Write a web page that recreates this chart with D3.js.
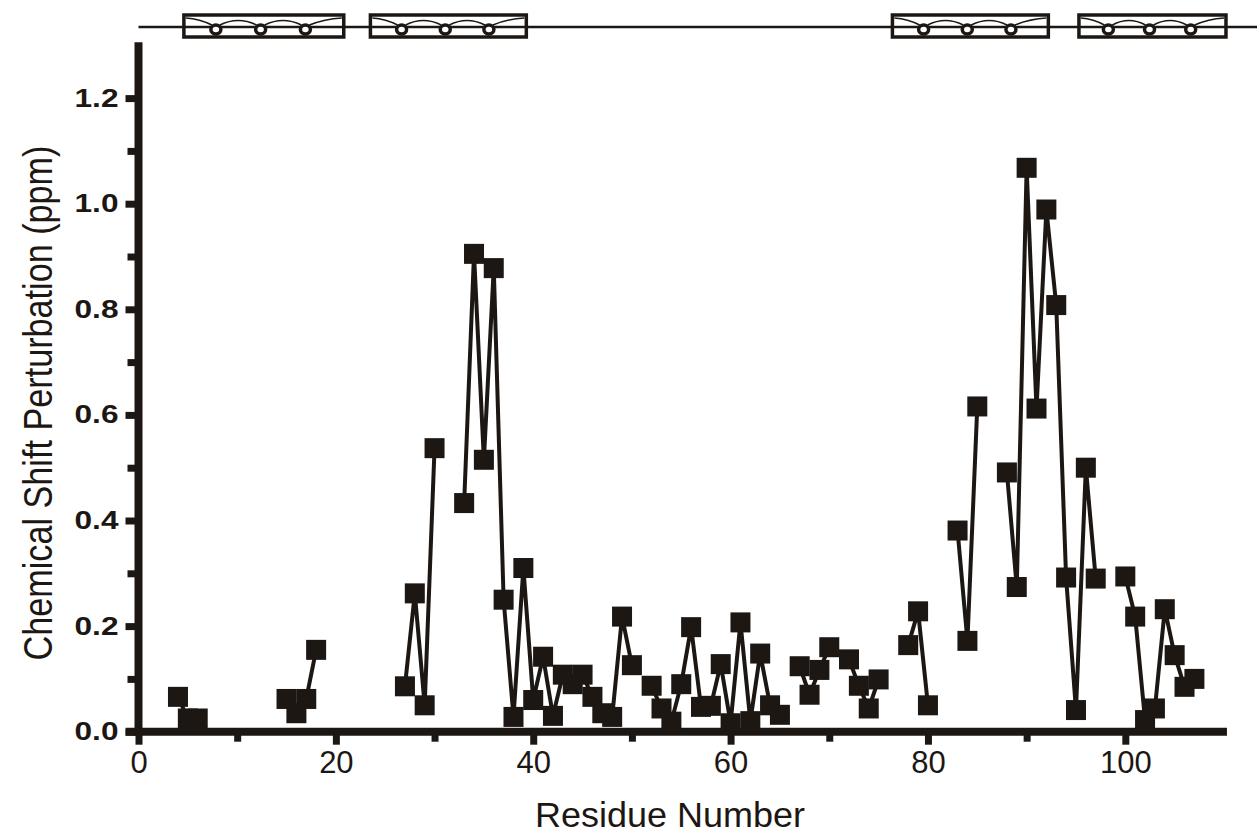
<!DOCTYPE html>
<html>
<head>
<meta charset="utf-8">
<script src="https://cdn.jsdelivr.net/npm/d3@7"></script>
<style>
  body { margin: 0; background: #fff; }
  text { font-family: "Liberation Sans", Arial, sans-serif; fill: #1d1714; }
</style>
</head>
<body>
<div class="chart"></div>
<script>
// residue numbers and chemical shift perturbation (ppm)
var residues = [4, 5, 6, 15, 16, 17, 18, 27, 28, 29, 30,
  33, 34, 35, 36, 37, 38, 39, 40, 41, 42, 43, 44, 45, 46, 47, 48, 49, 50,
  52, 53, 54, 55, 56, 57, 58, 59, 60, 61, 62, 63, 64, 65,
  67, 68, 69, 70, 72, 73, 74, 75, 78, 79, 80, 83, 84, 85,
  88, 89, 90, 91, 92, 93, 94, 95, 96, 97,
  100, 101, 102, 103, 104, 105, 106, 107];
var shifts = [0.066, 0.025, 0.025, 0.062, 0.035, 0.062, 0.155, 0.086, 0.262, 0.05, 0.537,
  0.433, 0.905, 0.515, 0.878, 0.25, 0.028, 0.31, 0.06, 0.142, 0.03, 0.108, 0.09, 0.108, 0.066, 0.035, 0.028, 0.218, 0.126,
  0.087, 0.044, 0.019, 0.09, 0.198, 0.047, 0.049, 0.128, 0.016, 0.207, 0.02, 0.148, 0.05, 0.032,
  0.124, 0.07, 0.117, 0.16, 0.137, 0.087, 0.044, 0.099, 0.164, 0.228, 0.05, 0.381, 0.172, 0.616,
  0.491, 0.274, 1.068, 0.612, 0.989, 0.808, 0.292, 0.041, 0.5, 0.29,
  0.294, 0.218, 0.022, 0.044, 0.232, 0.145, 0.085, 0.1];

// helix boxes along the sequence (residue start / end)
var helixStart = [4.6, 23.5, 76.4, 95.3];
var helixEnd = [20.8, 39.3, 92.2, 110.2];

var xMajorTicks = [0, 20, 40, 60, 80, 100];
var xMinorTicks = [10, 30, 50, 70, 90];
var yMajorTicks = [0, 0.2, 0.4, 0.6, 0.8, 1.0, 1.2];
var yMinorTicks = [0.1, 0.3, 0.5, 0.7, 0.9, 1.1];

var ink = "#1d1714";
var svgWidth = 1257;
var svgHeight = 833;

var svg = d3.select(".chart")
  .append("svg")
  .attr("width", svgWidth)
  .attr("height", svgHeight);

var xScale = d3.scaleLinear().domain([0, 110]).range([138.5, 1224]);
var yScale = d3.scaleLinear().domain([0, 1.3]).range([731.7, 45.3]);

// axes
var xAxis = d3.axisBottom(xScale).tickValues(xMajorTicks).tickSize(13).tickSizeOuter(0).tickPadding(6);
var xMinor = d3.axisBottom(xScale).tickValues(xMinorTicks).tickSize(10).tickSizeOuter(0).tickFormat("");
var yAxis = d3.axisLeft(yScale).tickValues(yMajorTicks).tickSize(13).tickSizeOuter(0).tickPadding(7).tickFormat(d3.format(".1f"));
var yMinor = d3.axisLeft(yScale).tickValues(yMinorTicks).tickSize(11).tickSizeOuter(0).tickFormat("");

function styleAxis(g) {
  g.select(".domain").remove();
  g.selectAll(".tick line").attr("stroke", ink).attr("stroke-width", 7);
}

var gx = svg.append("g").attr("transform", "translate(0," + yScale(0) + ")").call(xAxis).call(styleAxis);
svg.append("g").attr("transform", "translate(0," + yScale(0) + ")").call(xMinor).call(styleAxis);
gx.selectAll("text")
  .style("font-size", "31px")
  .attr("fill", ink);

var gy = svg.append("g").attr("transform", "translate(" + xScale(0) + ",0)").call(yAxis).call(styleAxis);
svg.append("g").attr("transform", "translate(" + xScale(0) + ",0)").call(yMinor).call(styleAxis);
gy.selectAll("text")
  .style("font-size", "25px")
  .style("font-weight", "bold")
  .attr("fill", ink)
  .attr("textLength", 44)
  .attr("lengthAdjust", "spacingAndGlyphs");

// thick axis lines
svg.append("line")
  .attr("x1", xScale(-1.3)).attr("x2", xScale(110.3))
  .attr("y1", yScale(0)).attr("y2", yScale(0))
  .attr("stroke", ink).attr("stroke-width", 8);
svg.append("line")
  .attr("x1", xScale(0)).attr("x2", xScale(0))
  .attr("y1", yScale(0) + 4).attr("y2", yScale(1.3) - 3)
  .attr("stroke", ink).attr("stroke-width", 8);

// axis titles
svg.append("text")
  .attr("x", 670).attr("y", 827)
  .attr("text-anchor", "middle")
  .style("font-size", "35px")
  .attr("textLength", 270)
  .attr("lengthAdjust", "spacingAndGlyphs")
  .text("Residue Number");

svg.append("text")
  .attr("transform", "translate(52,403) rotate(-90)")
  .attr("text-anchor", "middle")
  .style("font-size", "40px")
  .attr("textLength", 515)
  .attr("lengthAdjust", "spacingAndGlyphs")
  .text("Chemical Shift Perturbation (ppm)");

// data: split into runs of consecutive residues
var points = residues.map(function(r, i) { return {res: r, val: shifts[i]}; });
var segments = [];
points.forEach(function(p, i) {
  if (i === 0 || p.res - points[i - 1].res > 1) segments.push([]);
  segments[segments.length - 1].push(p);
});

var line = d3.line().x(d => xScale(d.res)).y(d => yScale(d.val));

svg.append("g").selectAll("path")
  .data(segments)
  .enter()
  .append("path")
  .attr("d", line)
  .attr("fill", "none")
  .attr("stroke", ink)
  .attr("stroke-width", 4);

svg.append("g").selectAll("rect")
  .data(points)
  .enter()
  .append("rect")
  .attr("x", d => xScale(d.res) - 10)
  .attr("y", d => yScale(d.val) - 10)
  .attr("width", 20)
  .attr("height", 20)
  .attr("fill", ink);

// secondary structure strip on top
var topY = 27;
svg.append("line")
  .attr("x1", xScale(0)).attr("x2", svgWidth)
  .attr("y1", topY).attr("y2", topY)
  .attr("stroke", ink).attr("stroke-width", 2.5);

var helices = helixStart.map(function(s, i) { return {s: s, e: helixEnd[i]}; });
var hg = svg.append("g").selectAll("g")
  .data(helices)
  .enter()
  .append("g");

hg.append("rect")
  .attr("x", d => xScale(d.s))
  .attr("y", 15)
  .attr("width", d => xScale(d.e) - xScale(d.s))
  .attr("height", 22)
  .attr("fill", "#fff")
  .attr("stroke", ink)
  .attr("stroke-width", 3.5);

hg.append("line")
  .attr("x1", d => xScale(d.s)).attr("x2", d => xScale(d.e))
  .attr("y1", topY).attr("y2", topY)
  .attr("stroke", ink).attr("stroke-width", 2.5);

// helical ribbon: thin waves from the top edge into each loop
hg.append("path")
  .attr("fill", "none")
  .attr("stroke", ink)
  .attr("stroke-width", 1.5)
  .attr("d", function(d) {
    var x0 = xScale(d.s), x1 = xScale(d.e), w = x1 - x0;
    var loops = [0.2, 0.48, 0.76].map(f => x0 + f * w);
    var p = d3.path();
    p.moveTo(x0 + 2, 18);
    p.quadraticCurveTo((x0 + loops[0]) / 2, 19, loops[0] - 4, 25);
    p.moveTo(loops[0] + 4, 25);
    p.quadraticCurveTo((loops[0] + loops[1]) / 2, 16, loops[1] - 4, 25);
    p.moveTo(loops[1] + 4, 25);
    p.quadraticCurveTo((loops[1] + loops[2]) / 2, 16, loops[2] - 4, 25);
    p.moveTo(loops[2] + 4, 25);
    p.quadraticCurveTo((loops[2] + x1) / 2, 19, x1 - 2, 18);
    return p.toString();
  });

hg.selectAll("ellipse")
  .data(function(d) {
    var x0 = xScale(d.s), w = xScale(d.e) - x0;
    return [0.2, 0.48, 0.76].map(f => x0 + f * w);
  })
  .enter()
  .append("ellipse")
  .attr("cx", d => d)
  .attr("cy", 29.5)
  .attr("rx", 5)
  .attr("ry", 4.5)
  .attr("fill", "#fff")
  .attr("stroke", ink)
  .attr("stroke-width", 3.5);
</script>
</body>
</html>
